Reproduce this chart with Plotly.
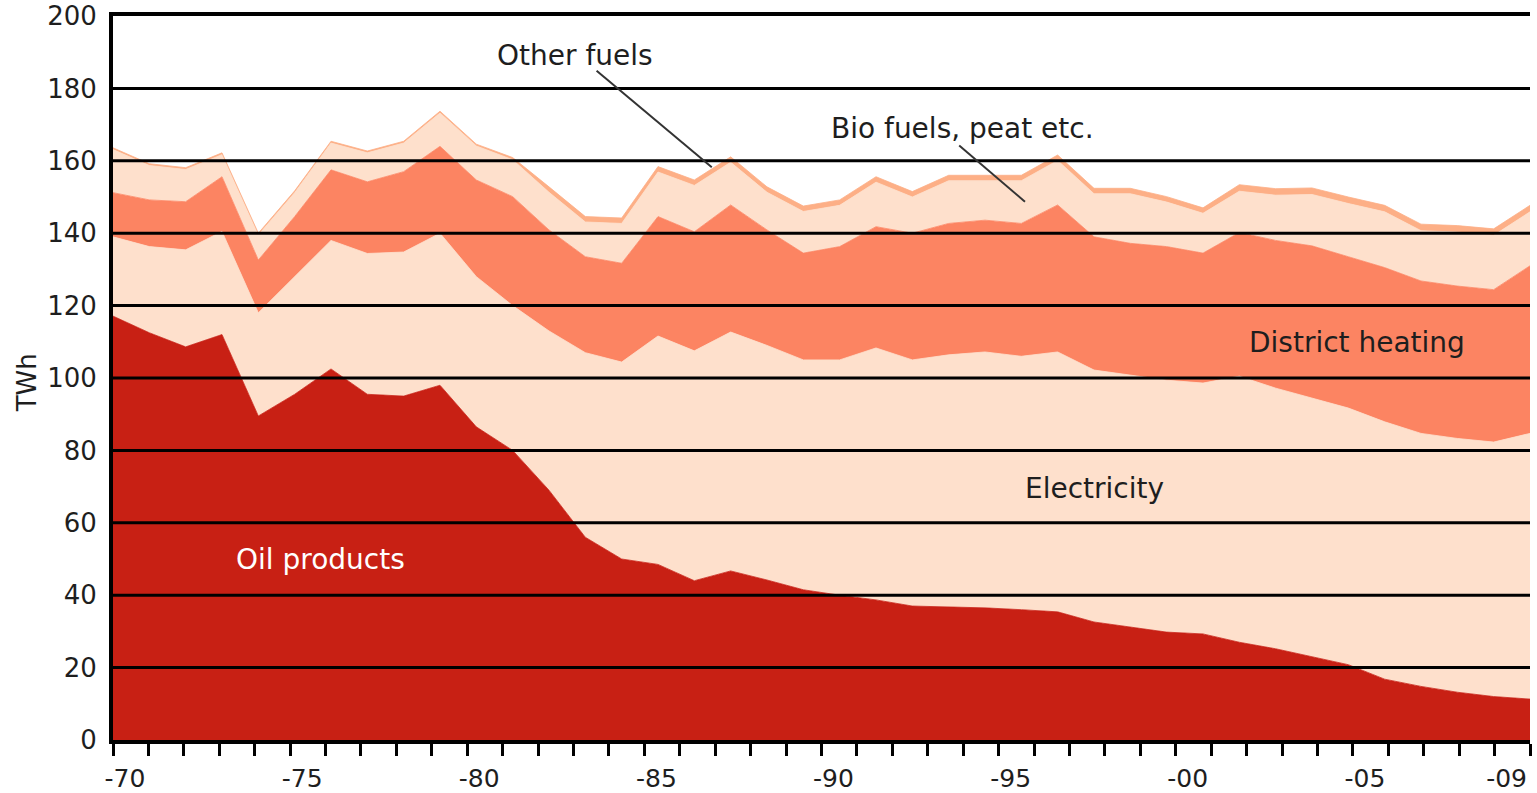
import plotly.graph_objects as go

# ---------------- data (TWh) ----------------
years = list(range(1970, 2010))

oil_products = [117.1, 112.5, 108.6, 112.0, 89.5, 95.5, 102.5, 95.5, 95.0, 98.0,
                86.5, 80.0, 69.0, 56.0, 50.0, 48.5, 44.0, 46.7, 44.2, 41.5,
                40.0, 38.7, 37.0, 36.8, 36.5, 36.0, 35.4, 32.6, 31.2, 29.8,
                29.3, 27.0, 25.2, 22.9, 20.8, 16.8, 14.8, 13.2, 12.0, 11.3]

electricity = [21.9, 23.8, 26.8, 28.5, 28.5, 32.5, 35.5, 38.9, 39.8, 42.0,
               41.5, 40.0, 44.0, 51.0, 54.4, 63.1, 63.5, 66.0, 64.8, 63.5,
               65.0, 69.6, 68.0, 69.6, 70.7, 70.0, 71.8, 69.6, 69.6, 69.6,
               69.3, 73.5, 72.0, 71.6, 70.9, 71.1, 69.9, 70.1, 70.3, 73.4]

district_heating = [12.2, 12.9, 13.3, 15.1, 14.6, 16.6, 19.5, 19.8, 22.2, 24.0,
                    26.7, 30.1, 27.9, 26.5, 27.3, 33.0, 32.9, 35.1, 31.9, 29.5,
                    31.3, 33.5, 35.0, 36.3, 36.4, 36.7, 40.6, 36.8, 36.4, 36.9,
                    35.9, 39.7, 40.8, 42.0, 41.8, 42.6, 42.1, 42.1, 42.1, 46.3]

bio_fuels_peat = [11.9, 9.5, 8.9, 6.1, 6.9, 6.6, 7.4, 8.0, 7.9, 9.2,
                  9.4, 10.2, 10.4, 9.6, 11.0, 12.3, 12.8, 11.8, 10.4, 11.5,
                  11.4, 12.3, 10.0, 11.8, 10.9, 11.8, 12.3, 11.9, 13.7, 12.3,
                  11.0, 11.4, 12.5, 14.2, 14.7, 15.4, 13.9, 14.9, 15.0, 14.9]

other_fuels = [0.5, 0.5, 0.5, 0.5, 0.5, 0.5, 0.5, 0.5, 0.5, 0.5,
               0.5, 0.6, 1.5, 1.5, 1.5, 1.5, 1.5, 1.5, 1.5, 1.5,
               1.5, 1.5, 1.5, 1.5, 1.5, 1.5, 1.5, 1.5, 1.5, 1.5,
               1.5, 1.8, 1.8, 1.8, 1.8, 1.8, 1.8, 1.8, 1.8, 1.8]

series_names = ["Oil products", "Electricity", "District heating",
                "Bio fuels, peat etc.", "Other fuels"]
series_values = [oil_products, electricity, district_heating,
                 bio_fuels_peat, other_fuels]
series_colors = ["#C82014", "#FEE0CC", "#FC8462", "#FEE0CC", "#FDAF86"]

tick_years = [1970, 1975, 1980, 1985, 1990, 1995, 2000, 2005, 2009]
tick_text = ["-70", "-75", "-80", "-85", "-90", "-95", "-00", "-05", "-09"]
y_ticks = list(range(0, 201, 20))

FONT = "DejaVu Sans"
TXT = "#1e1e1e"

fig = go.Figure()
for name, vals, col in zip(series_names, series_values, series_colors):
    fig.add_trace(go.Scatter(
        x=years, y=vals, name=name, stackgroup="one", mode="lines",
        line=dict(width=0.8, color=col), fillcolor=col,
        showlegend=False, hoverinfo="x+y+name"))

# helper trace for the year tick axis
fig.add_trace(go.Scatter(x=[1970, 2010], y=[0, 0], xaxis="x2", mode="lines",
                         line=dict(width=0), showlegend=False, hoverinfo="skip"))

# gridlines drawn above the areas
for v in y_ticks[1:-1]:
    fig.add_shape(type="line", xref="paper", x0=0, x1=1, yref="y", y0=v, y1=v,
                  line=dict(color="black", width=3), layer="above")

# callout lines
fig.add_shape(type="line", xref="x", yref="y", x0=1983.31, y0=184.9, x1=1986.48, y1=158.2,
              line=dict(color="#333333", width=2), layer="above")
fig.add_shape(type="line", xref="x", yref="y", x0=1993.29, y0=164.2, x1=1995.1, y1=148.7,
              line=dict(color="#333333", width=2), layer="above")

ann = [
    ("Other fuels", 1982.72, 189.0, TXT),
    ("Bio fuels, peat etc.", 1993.37, 169.0, TXT),
    ("District heating", 2004.24, 109.7, TXT),
    ("Electricity", 1997.0, 69.6, TXT),
    ("Oil products", 1975.7, 50.0, "white"),
]
for text, x, y, c in ann:
    fig.add_annotation(text=text, x=x, y=y, xref="x", yref="y", showarrow=False,
                       font=dict(family=FONT, size=28, color=c),
                       xanchor="center", yanchor="middle")

fig.add_annotation(text="TWh", xref="paper", yref="paper", x=-0.0607, y=0.494,
                   textangle=-90, showarrow=False, xanchor="center", yanchor="middle",
                   font=dict(family=FONT, size=26, color=TXT))

fig.update_layout(
    template="none",
    width=1537, height=793,
    margin=dict(l=113, r=7, t=16, b=53, autoexpand=False),
    paper_bgcolor="white", plot_bgcolor="white",
    font=dict(family=FONT, color=TXT),
    xaxis=dict(range=[1970, 2009], visible=False, showgrid=False, zeroline=False,
               automargin=False),
    xaxis2=dict(overlaying="x", anchor="y", side="bottom", range=[1970, 2010],
                tickmode="array", tickvals=tick_years, ticktext=tick_text,
                ticks="outside", ticklen=12, tickwidth=3, tickcolor="black",
                minor=dict(tickmode="linear", tick0=1970, dtick=1, ticks="outside",
                           ticklen=12, tickwidth=3, tickcolor="black", showgrid=False),
                showline=True, linewidth=4, linecolor="black", mirror=True,
                showgrid=False, zeroline=False, layer="above traces",
                automargin=False,
                ticklabelshift=12, ticklabelstandoff=1,
                tickfont=dict(family=FONT, size=25, color=TXT)),
    yaxis=dict(range=[0, 200], tickvals=y_ticks, ticks="", showgrid=False,
               zeroline=False, showline=True, linewidth=4, linecolor="black",
               layer="above traces", ticklabelstandoff=7, automargin=False,
               tickfont=dict(family=FONT, size=26, color=TXT)),
)

fig.write_html("out.html",
               config={"displayModeBar": False},
               post_script="document.body.style.margin='0';"
                           "document.body.style.overflow='hidden';")
